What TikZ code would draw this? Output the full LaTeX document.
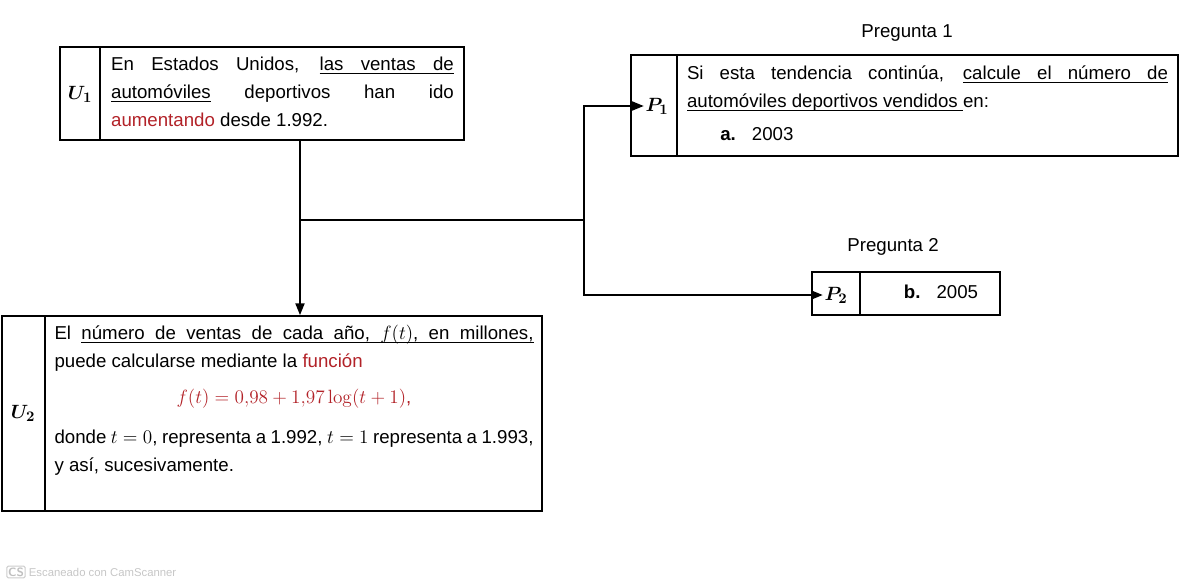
\documentclass[tikz,border=0pt]{standalone}
\usepackage[no-math]{fontspec}
\setmainfont{Liberation Sans}
\usepackage{amsmath}
\usetikzlibrary{arrows.meta,positioning}
\definecolor{rojo}{RGB}{178,34,40}
\DeclareMathSizes{14}{14.5}{10.5}{8}
% underlined word and underlined (stretchable) space
\newcommand{\subr}[1]{\setbox0\hbox{#1}\rlap{\rule[-2.4pt]{\wd0}{0.6pt}}\box0\relax}
\newcommand{\esp}{\leaders\hrule height -1.8pt depth 2.4pt\hskip\fontdimen2\font plus \fontdimen3\font minus \fontdimen4\font\relax}
\tikzset{every picture/.style={line width=0.75pt}}
\tikzset{
  caja/.style={draw, line width=0.9pt, inner sep=0pt},
  etiq/.style={inner sep=0.75pt, font=\fontsize{14}{17}\selectfont},
  texto/.style={inner sep=0pt, align=justify, font=\fontsize{14}{21}\selectfont},
  flecha/.style={line width=2pt, -{Triangle[length=9pt,width=6.5pt]}},
  linea/.style={line width=2pt},
}

\begin{document}
\begin{tikzpicture}[x=0.75pt,y=0.75pt,yscale=-1,xscale=1]
\useasboundingbox (0,0) rectangle (1192,585);

%Shape: Rectangle U1
\node[caja, minimum width=303pt, minimum height=69.75pt] (u1) at (262,93.5) {};
\draw[line width=0.9pt] (100,47) -- (100,140);
%Shape: Rectangle P1
\node[caja, minimum width=410.25pt, minimum height=75.75pt] (p1) at (904.5,105.5) {};
\draw[line width=0.9pt] (677,55) -- (677,156);
%Shape: Rectangle P2
\node[caja, minimum width=141pt, minimum height=32.25pt] (p2) at (906,293.5) {};
\draw[line width=0.9pt] (860,272) -- (860,315);
%Shape: Rectangle U2
\node[caja, minimum width=405pt, minimum height=146.25pt] (u2) at (272,413.5) {};
\draw[line width=0.9pt] (45,316) -- (45,511);

% Text Node
\node[etiq] (u1lab) at (80,94) {$\boldsymbol{U_1}$};
% Text Node
\node[texto, text width=257pt] (u1txt) at (282.5,91.5) {En Estados Unidos, \subr{las}\esp\subr{ventas}\esp\subr{de}\linebreak \subr{automóviles} deportivos han ido\linebreak \textcolor{rojo}{aumentando} desde 1.992.};
% Text Node
\node[etiq] (preg1) at (907,33) {Pregunta 1};
% Text Node
\node[etiq] (p1lab) at (657,106) {$\boldsymbol{P_1}$};
% Text Node
\node[texto, text width=360.75pt] (p1txt) at (927.5,103) {Si esta tendencia continúa, \subr{calcule}\esp\subr{el}\esp\subr{número}\esp\subr{de}\linebreak \subr{automóviles}\esp\subr{deportivos}\esp\subr{vendidos}\esp en:\\[4pt] \hspace*{25pt}\textbf{a.}\hspace{12pt}2003};
% Text Node
\node[etiq] (preg2) at (893,247) {Pregunta 2};
% Text Node
\node[etiq] (p2lab) at (836,295) {$\boldsymbol{P_2}$};
% Text Node
\node[etiq] (p2txt) at (941,292) {\textbf{b.}\hspace{12pt}2005};
% Text Node
\node[etiq] (u2lab) at (23,413) {$\boldsymbol{U_2}$};
% Text Node
\node[texto, text width=359.25pt, anchor=north west] (u2txt) at (54,325) {El \subr{número}\esp\subr{de}\esp\subr{ventas}\esp\subr{de}\esp\subr{cada}\esp\subr{año,}\esp\subr{$f(t)$,}\esp\subr{en}\esp\subr{millones,}\linebreak puede calcularse mediante la \textcolor{rojo}{función}\par\vspace{6pt}
\centerline{\textcolor{rojo}{$f(t)=0{,}98+1{,}97\log(t+1)$,}}\par\vspace{9pt}
\noindent\makebox[\linewidth][s]{donde $t=0$, representa a 1.992, $t=1$ representa a 1.993,}\par
y así, sucesivamente.};

%Straight Lines
\coordinate (nudo1) at (300,220);
\coordinate (nudo2) at (584,220);
\draw[flecha] (nudo1 |- u1.south) -- (nudo1 |- u2.north);
\draw[linea] (nudo1) -- (nudo2);
\draw[flecha] (nudo2) |- (p1lab.west);
\draw[flecha] (nudo2) |- (p2lab.west);

% Text Node
\node[draw=gray!40, rounded corners=1pt, inner sep=1pt, text=gray!50, font=\sffamily\small\bfseries] (cs) at (16,572) {CS};
\node[right=2pt of cs, inner sep=0pt, text=gray!45, font=\fontsize{8.5}{10}\selectfont] (marca) {Escaneado con CamScanner};

\end{tikzpicture}
\end{document}
